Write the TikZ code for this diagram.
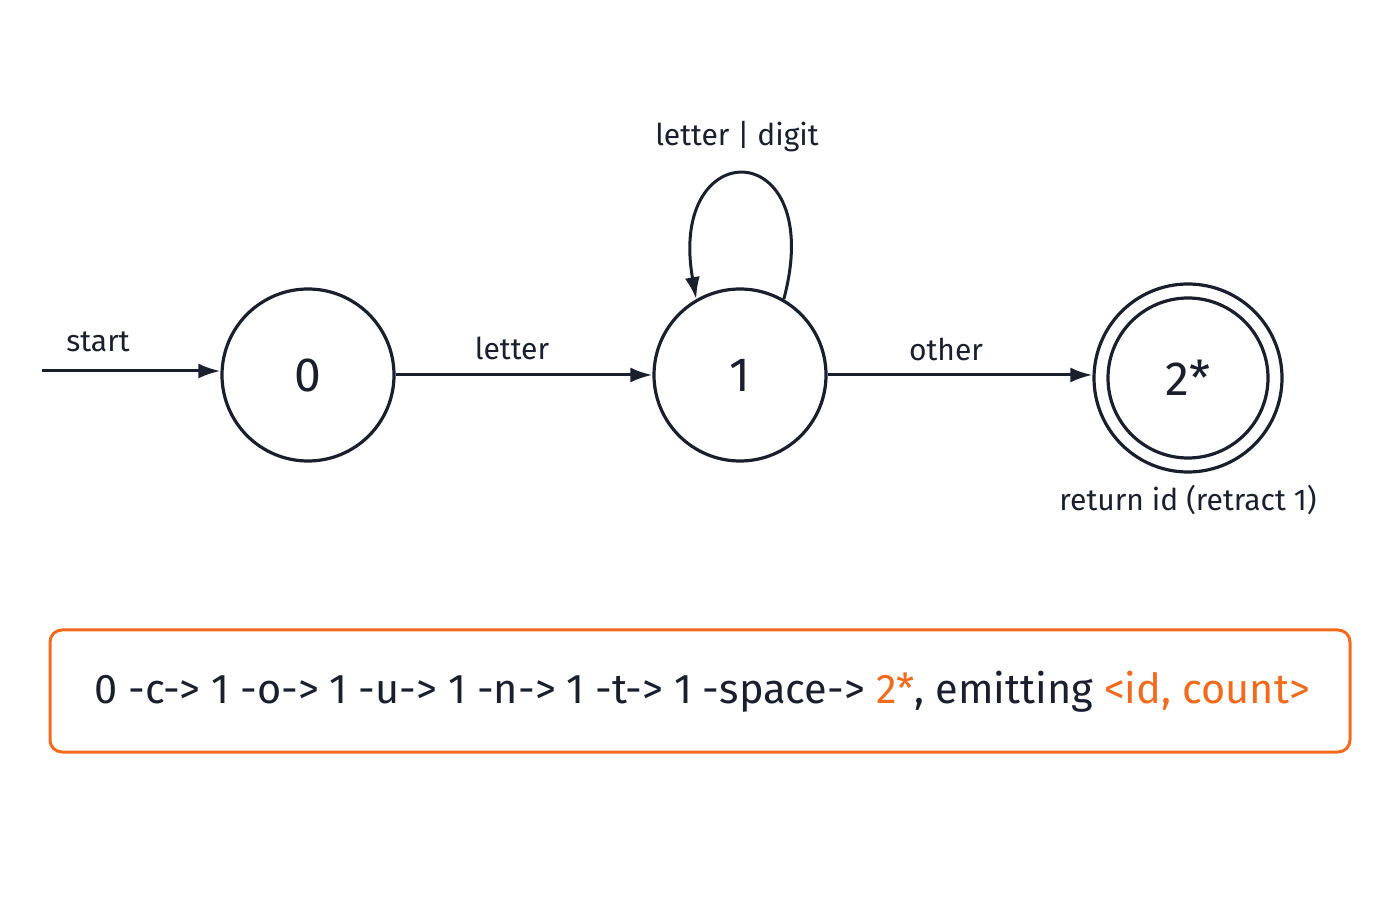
\documentclass[tikz,border=0pt]{standalone}
\usepackage{fontspec}
\setmainfont{Fira Sans}
\usetikzlibrary{arrows.meta}
\definecolor{ink}{HTML}{1A1F2E}
\definecolor{org}{HTML}{F26B1D}
\begin{document}
\begin{tikzpicture}[x=1pt,y=1pt,
  st/.style={circle,draw=ink,line width=3.2pt,minimum size=172pt,inner sep=0pt,font=\fontsize{48}{52}\selectfont,text=ink},
  lab/.style={font=\fontsize{30}{34}\selectfont,text=ink},
  arr/.style={draw=ink,line width=3pt,-{Latex[length=22pt,width=15pt]}}]
\useasboundingbox (0,0) rectangle (1400,900);
\node[st] (n0) at (308,525) {0};
\node[st] (n1) at (740,525) {1};
\node[st,minimum size=188pt] (n2) at (1188,522) {};
\node[st,minimum size=160pt] (n2i) at (1188,522) {2*};
\coordinate (s) at (42,529);
\draw[arr] (s) -- (n0.west |- s);
\node[lab] (ls) at (98,558) {start};
\draw[arr] (n0) -- (n1);
\node[lab] (l1) at (512,552) {letter};
\draw[arr] (n1.east) -- (n2.west |- n1.east);
\node[lab] (l2) at (946,551) {other};
\draw[arr] (n1.60) .. controls +(75:170) and +(100:170) .. (n1.120);
\node[lab] (l3) at (737,763) {letter | digit};
\node[lab] (l4) at (1188,400) {return id (retract 1)};
\node[draw=org,line width=3pt,rounded corners=12pt,minimum width=1300pt,minimum height=122pt] (box) at (700,209) {};
\node[font=\fontsize{41.5}{46}\selectfont,text=ink] (t) at (702,208) {0 -c-> 1 -o-> 1 -u-> 1 -n-> 1 -t-> 1 -space-> \textcolor{org}{2*}, emitting \textcolor{org}{<id, count>}};
\end{tikzpicture}
\end{document}
